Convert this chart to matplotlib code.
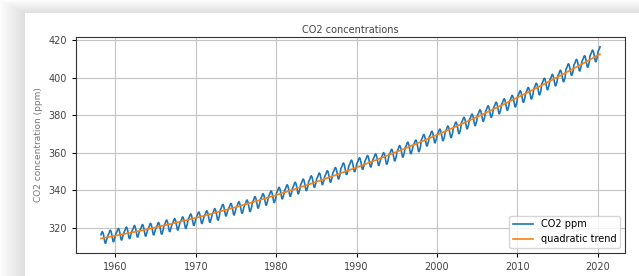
import numpy as np
import matplotlib.pyplot as plt

# Mauna Loa annual mean CO2 (ppm), 1958 partial
years = np.arange(1958, 2021)
annual_ppm = [315.2, 315.98, 316.91, 317.64, 318.45, 318.99, 319.62, 320.04, 321.37, 322.18,
              323.05, 324.62, 325.68, 326.32, 327.46, 329.68, 330.19, 331.13, 332.03, 333.84,
              335.41, 336.84, 338.76, 340.12, 341.48, 343.15, 344.87, 346.35, 347.61, 349.31,
              351.69, 353.20, 354.45, 355.70, 356.54, 357.21, 358.96, 360.97, 362.74, 363.88,
              366.84, 368.54, 369.71, 371.32, 373.45, 375.98, 377.70, 379.98, 382.09, 384.02,
              385.83, 387.64, 390.10, 391.85, 394.06, 396.74, 398.81, 401.01, 404.41, 406.76,
              408.72, 411.66, 413.9]
# seasonal anomaly Jan..Dec (ppm)
season = [-0.15, 0.55, 1.3, 2.45, 2.95, 2.3, 0.8, -1.25, -3.05, -3.25, -1.95, -0.7]

t, co2 = [], []
for y, a in zip(years, annual_ppm):
    for m in range(12):
        if y == 1958 and m < 2:
            continue
        if y == 2020 and m > 3:
            continue
        t.append(y + (m + 0.5) / 12)
        co2.append(a + season[m])
t = np.array(t)
co2 = np.array(co2)

coef = np.polyfit(t, co2, 2)
trend = np.polyval(coef, t)

fig = plt.figure(figsize=(6.39, 2.76), dpi=100)

# screenshot shadow around the card
bg = fig.add_axes([0, 0, 1, 1], zorder=-10)
H, W = 276, 639
yy, xx = np.mgrid[0:H, 0:W]
dx = np.clip(25 - xx, 0, None)
dy = np.clip(13 - yy, 0, None)
outside = (dx > 0) | (dy > 0)
d = np.maximum(dx / 25.0, dy / 13.0)
g = np.where(outside, 0.87 + 0.12 * d, 1.0)
bg.imshow(np.dstack([g, g, g]), aspect='auto', extent=[0, 1, 0, 1], vmin=0, vmax=1)
bg.axis('off')

ax = fig.add_axes([0.119, 0.083, 0.859, 0.783])
ax.plot(t, co2, color='#1f77b4', linewidth=1.2, label='CO2 ppm')
ax.plot(t, trend, color='#ff7f0e', linewidth=1.2, label='quadratic trend')
ax.grid(True, color='#c4c4c4', linewidth=0.8)
ax.set_title('CO2 concentrations', fontsize=7, color='#444444', pad=3)
ax.set_ylabel('CO2 concentration (ppm)', fontsize=6.5, color='#777777')
ax.tick_params(labelsize=7, labelcolor='#444444', length=3)
ax.set_yticks([320, 340, 360, 380, 400, 420])
ax.legend(loc='lower right', fontsize=7, framealpha=0.8)
for s in ax.spines.values():
    s.set_color('#333333')

fig.savefig('out.png', dpi=100)
